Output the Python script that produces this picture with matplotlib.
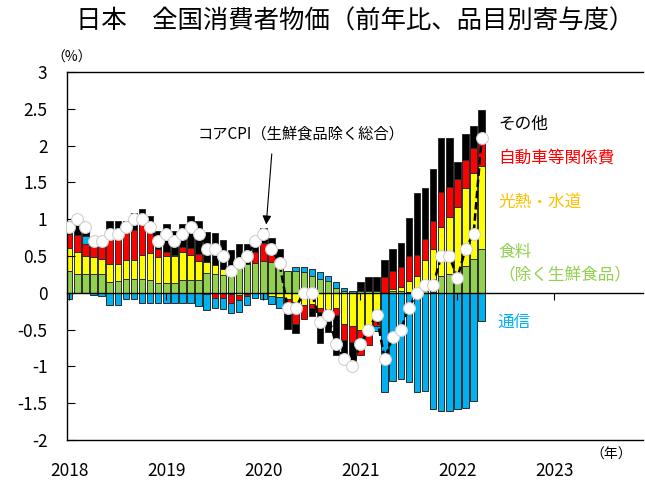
import numpy as np
import matplotlib
matplotlib.use("Agg")
import matplotlib.pyplot as plt
from matplotlib.ticker import FormatStrFormatter

plt.rcParams['font.family'] = ['Noto Sans CJK JP', 'DejaVu Sans']

# monthly, Jan 2018 .. Apr 2022 (contribution to y/y, %pt)
months = np.arange(52)
year_pos = [0, 12, 24, 36, 48, 60]
year_labels = ['2018', '2019', '2020', '2021', '2022', '2023']

food = [.30, .25, .25, .25, .25, .15, .16, .19, .19, .19, .18, .13,
        .13, .13, .18, .18, .18, .27, .25, .24, .22, .33, .39, .41,
        .43, .42, .41, .29, .30, .28, .23, .19, .16, .07, .02, .00,
        .02, .03, .02, .00, .03, .03, .01, .04, .03, .01, .23, .25,
        .15, .37, .46, .59]
energy = [.31, .30, .25, .24, .21, .24, .23, .26, .26, .32, .36, .35,
          .37, .37, .37, .34, .25, .15, .13, .09, -.02, -.03, -.01, .00,
          .00, -.05, -.06, -.09, -.12, -.17, -.15, -.20, -.22, -.20, -.42, -.45,
          -.50, -.48, -.25, .00, .02, .05, .15, .19, .41, .59, .66, .78,
          1.02, 1.06, 1.17, 1.13]
car = [.19, .24, .16, .15, .17, .34, .34, .36, .41, .42, .28, .12,
       .06, .02, .07, .09, .10, -.02, -.07, -.07, -.12, -.07, -.03, .14,
       .25, .10, .00, -.12, -.30, -.18, -.05, -.06, -.07, -.10, -.22, -.22,
       -.34, -.23, -.20, .21, .25, .27, .34, .29, .29, .38, .48, .41,
       .38, .38, .34, .38]
comm = [-.08, .00, .11, -.03, -.05, -.17, -.17, -.08, -.08, -.14, -.14, -.14,
        -.14, -.14, -.14, -.14, -.18, -.21, -.14, -.15, -.14, -.16, -.12, -.07,
        -.08, -.10, -.14, -.07, .05, .07, .09, .09, .07, .07, .05, .03,
        .00, .00, -.07, -1.35, -1.20, -1.17, -1.21, -1.35, -1.33, -1.58, -1.60, -1.60,
        -1.58, -1.56, -1.47, -.38]
other = [.18, .21, .13, .09, .12, .24, .24, .17, .22, .21, .22, .24,
         .38, .32, .32, .43, .45, .41, .43, .39, .36, .33, .27, .22,
         .20, .23, .19, -.21, -.13, .00, -.12, -.42, -.24, -.54, -.33, -.36,
         .12, .18, .20, .24, .30, .32, .51, .83, .70, .70, .73, .66,
         .23, .35, .30, .38]
core = [.9, 1.0, .9, .7, .7, .8, .8, .9, 1.0, 1.0, .9, .7,
        .8, .7, .8, .9, .8, .6, .6, .5, .3, .4, .5, .7,
        .8, .6, .4, -.2, -.2, 0, 0, -.4, -.3, -.7, -.9, -1.0,
        -.7, -.5, -.3, -.9, -.6, -.5, -.2, 0, .1, .1, .5, .5,
        .2, .6, .8, 2.1]

series = [
    (food, '#92D050'),
    (energy, '#FFFF00'),
    (car, '#FF0000'),
    (comm, '#00B0F0'),
    (other, '#000000'),
]

W, H = 645, 480


def px(x, y):
    return x / W, 1 - y / H


fig = plt.figure(figsize=(W / 100, H / 100), dpi=100)
ax = fig.add_axes([67 / W, 1 - 440 / H, (643 - 67) / W, (440 - 72) / H])

pos_base = np.zeros(len(months))
neg_base = np.zeros(len(months))
for vals, col in series:
    v = np.array(vals, dtype=float)
    bottom = np.where(v >= 0, pos_base, neg_base)
    ax.bar(months, v, bottom=bottom, width=0.8, color=col,
           edgecolor='#2b2b2b', linewidth=0.7, zorder=1)
    pos_base += np.where(v >= 0, v, 0)
    neg_base += np.where(v < 0, v, 0)

ax.plot(months, core, color='black', ls=(0, (3, 1.5)), lw=1.8,
        marker='o', ms=8.5, mfc='white', mec='#d0d0d0', mew=0.8, zorder=5)

ax.set_xlim(-0.28, 70.95)
ax.set_ylim(-2, 3)
ax.set_yticks(np.arange(-2, 3.01, 0.5))
ax.yaxis.set_major_formatter(FormatStrFormatter('%g'))
ax.tick_params(axis='y', direction='in', length=6, pad=14, labelsize=12.5)

ax.spines['right'].set_visible(False)
ax.spines['bottom'].set_position(('data', 0))
for s in ['left', 'top', 'bottom']:
    ax.spines[s].set_linewidth(1.0)
ax.set_xticks(year_pos)
ax.tick_params(axis='x', direction='out', length=5, labelbottom=False)

sec = ax.secondary_xaxis('bottom')
sec.set_xticks(year_pos, labels=year_labels)
sec.tick_params(length=0, pad=16, labelsize=12.5)
sec.spines['bottom'].set_linewidth(1.0)

fig.text(*px(355, 22), '日本　全国消費者物価（前年比、品目別寄与度）',
         ha='center', va='center', fontsize=18.3)
fig.text(*px(72, 58), '（%）', ha='center', va='center', fontsize=10)
fig.text(*px(611, 455), '（年）', ha='center', va='center', fontsize=10)

ax.text(28.65, 2.155, 'コアCPI（生鮮食品除く総合）', ha='center', va='center',
        fontsize=11)
ax.annotate('', xy=(24.33, 0.89), xytext=(25.07, 1.925),
            arrowprops=dict(arrowstyle='-|>', color='black', lw=0.8,
                            mutation_scale=13))

legend = [
    ('その他', 124, '#000000'),
    ('自動車等関係費', 158, '#FF0000'),
    ('光熱・水道', 202, '#FFC000'),
    ('食料', 252, '#92D050'),
    ('（除く生鮮食品）', 276, '#92D050'),
    ('通信', 322, '#00B0F0'),
]
for txt, y, col in legend:
    fig.text(*px(498, y), txt, ha='left', va='center', fontsize=12, color=col)

fig.savefig('out.png', dpi=100)
